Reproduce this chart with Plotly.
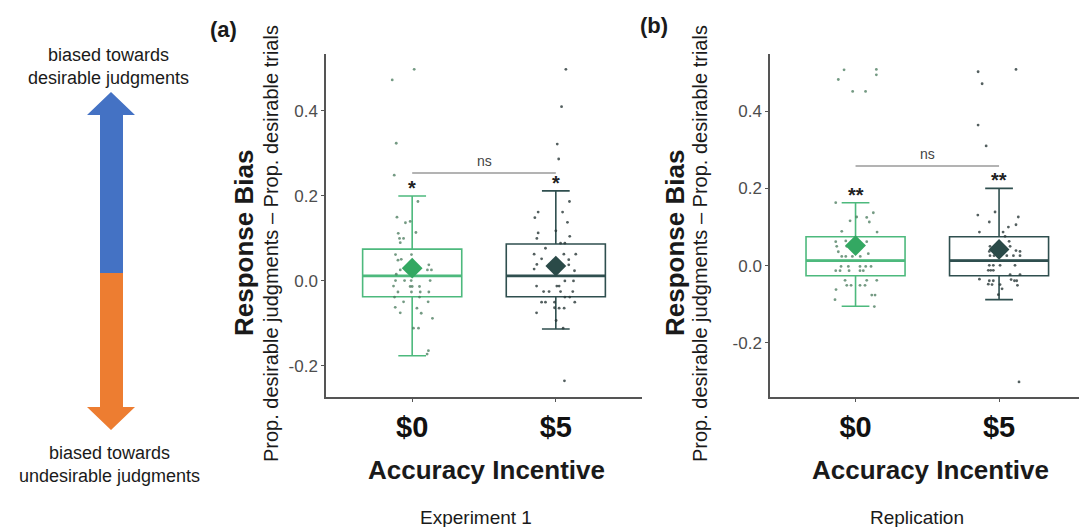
import plotly.graph_objects as go

W, H = 1079, 527

# ---------------- data ----------------
categories = ["$0", "$5"]
cat_pos = [1, 2]

# Panel (a) Experiment 1 : box statistics [q1, median, q3, lower whisker, upper whisker], mean
a_q1 = [-0.037, -0.037]
a_med = [0.012, 0.012]
a_q3 = [0.075, 0.087]
a_lo = [-0.176, -0.113]
a_hi = [0.200, 0.212]
a_mean = [0.030, 0.035]

# Panel (b) Replication
b_q1 = [-0.026, -0.026]
b_med = [0.013, 0.013]
b_q3 = [0.075, 0.075]
b_lo = [-0.105, -0.088]
b_hi = [0.163, 0.200]
b_mean = [0.052, 0.042]

# individual participants (value, jitter offset)
a0_y = [0.187, 0.150, 0.137, 0.140, 0.114, 0.112, 0.100, 0.100, 0.090, 0.062, 0.062, 0.049, 0.051,
        0.038, 0.026, 0.026, 0.026, 0.016, 0.001, 0.001, 0.001, 0.001, -0.012, -0.013, -0.013,
        -0.013, -0.026, -0.026, -0.026, -0.026, -0.038, -0.038, -0.049, -0.049, -0.062, -0.064,
        -0.075, -0.076, -0.088, -0.111, -0.111, -0.164, -0.172, 0.473, 0.498, 0.324, 0.249]
a0_dx = [0.04, -0.106, -0.047, -0.014, 0.026, -0.097, -0.088, -0.06, -0.083, -0.116, -0.005, -0.099,
         -0.076, 0.116, 0.106, 0.134, -0.083, -0.111, -0.116, -0.053, -0.007, 0.125, -0.13, -0.014,
         0.0, 0.051, -0.099, -0.005, 0.056, 0.116, -0.123, 0.051, -0.06, 0.111, -0.118, 0.033,
         -0.083, 0.063, 0.141, 0.009, 0.044, 0.113, 0.104, -0.139, 0.014, -0.111, -0.125]

a5_y = [0.187, 0.162, 0.149, 0.162, 0.138, 0.118, 0.113, 0.105, 0.100, 0.089, 0.089, 0.077, 0.063,
        0.063, 0.063, 0.052, 0.050, 0.039, 0.038, 0.028, 0.024, 0.000, 0.000, -0.012, -0.012,
        -0.012, -0.025, -0.025, -0.025, -0.025, -0.038, -0.038, -0.050, -0.050, -0.050, -0.050,
        -0.063, -0.064, -0.064, -0.075, -0.093, -0.111, 0.498, 0.410, 0.322, 0.287, -0.235]
a5_dx = [0.095, -0.123, -0.146, 0.047, 0.081, 0.0, -0.123, 0.097, -0.132, 0.033, 0.063, -0.072,
         -0.151, 0.056, 0.139, -0.099, 0.09, -0.132, 0.09, -0.151, 0.13, 0.063, 0.123, -0.134,
         0.007, 0.023, -0.085, -0.047, 0.033, 0.118, 0.063, 0.097, -0.099, -0.072, -0.009, 0.132,
         -0.009, 0.023, 0.058, -0.134, 0.002, 0.051, 0.07, 0.04, 0.01, 0.02, 0.06]

b0_y = [0.163, 0.137, 0.125, 0.126, 0.116, 0.113, 0.089, 0.087, 0.062, 0.064, 0.062, 0.050, 0.050,
        0.036, 0.031, 0.024, 0.024, 0.024, 0.024, -0.002, -0.002, -0.002, -0.002, -0.002, -0.013,
        -0.013, -0.013, -0.013, -0.013, -0.038, -0.038, -0.038, -0.051, -0.051, -0.051, -0.051,
        -0.062, -0.088, -0.076, -0.076, -0.106, 0.507, 0.482, 0.451, 0.451, 0.508, 0.494]
b0_dx = [-0.138, 0.124, 0.078, 0.008, -0.038, 0.096, -0.096, 0.15, -0.138, -0.068, 0.078, -0.131,
         -0.061, -0.12, 0.089, -0.096, -0.068, -0.022, 0.033, -0.101, -0.05, 0.031, 0.071, 0.108,
         -0.138, -0.108, -0.045, 0.031, 0.054, -0.073, 0.078, 0.148, -0.061, -0.031, 0.031, 0.066,
         -0.136, -0.143, 0.113, 0.136, 0.131, -0.08, -0.12, -0.02, 0.07, 0.145, 0.145]

b5_y = [0.139, 0.131, 0.126, 0.113, 0.106, 0.100, 0.087, 0.087, 0.076, 0.063, 0.050, 0.050, 0.037,
        0.039, 0.037, 0.026, 0.026, 0.026, 0.026, 0.026, 0.001, 0.001, 0.001, 0.001, -0.012,
        -0.012, -0.012, -0.035, -0.039, -0.039, -0.036, -0.039, -0.039, -0.023, -0.023, -0.048,
        -0.049, -0.049, -0.051, -0.060, -0.075, 0.502, 0.471, 0.364, 0.310, 0.508, -0.301]
b5_dx = [-0.028, -0.148, 0.134, -0.068, 0.118, 0.065, -0.137, 0.028, 0.042, 0.07, -0.063, 0.077,
         -0.068, 0.118, 0.146, -0.063, -0.035, 0.054, 0.1, 0.146, -0.068, -0.04, 0.007, 0.111,
         -0.075, -0.058, -0.04, -0.137, -0.068, -0.04, 0.084, 0.107, 0.123, 0.077, 0.146, -0.075,
         -0.049, 0.007, 0.128, 0.021, -0.005, -0.146, -0.118, -0.146, -0.09, 0.118, 0.139]

# significance labels
a_sig = ["*", "*"]
b_sig = ["**", "**"]
ns_label = "ns"
a_ns_y = 0.254
b_ns_y = 0.258

# ---------------- styles ----------------
COL = ["#4DB97D", "#2F4F4F"]
MEAN_COL = ["#33A862", "#2A4A48"]
DOT_COL = ["rgba(70,120,90,0.75)", "rgba(40,55,55,0.8)"]
AX_COL = "#555555"
FONT = "Liberation Sans, Arial, sans-serif"
NARROW = "Liberation Sans Narrow, Arial Narrow, Liberation Sans, Arial, sans-serif"

fig = go.Figure()

panels = [
    dict(xa="x", ya="y", q1=a_q1, med=a_med, q3=a_q3, lo=a_lo, hi=a_hi, mean=a_mean,
         pts=[(a0_y, a0_dx), (a5_y, a5_dx)], sig=a_sig, ns_y=a_ns_y),
    dict(xa="x2", ya="y2", q1=b_q1, med=b_med, q3=b_q3, lo=b_lo, hi=b_hi, mean=b_mean,
         pts=[(b0_y, b0_dx), (b5_y, b5_dx)], sig=b_sig, ns_y=b_ns_y),
]

BOXW = 0.69
for p in panels:
    for i, xc in enumerate(cat_pos):
        fig.add_trace(go.Box(
            x=[xc], q1=[p["q1"][i]], median=[p["med"][i]], q3=[p["q3"][i]],
            lowerfence=[p["lo"][i]], upperfence=[p["hi"][i]],
            width=BOXW, whiskerwidth=0.28, boxpoints=False,
            line=dict(color=COL[i], width=1.6), fillcolor="rgba(255,255,255,0)",
            xaxis=p["xa"], yaxis=p["ya"], hoverinfo="skip"))
        # thicker median line
        fig.add_trace(go.Scatter(
            x=[xc - BOXW / 2, xc + BOXW / 2], y=[p["med"][i], p["med"][i]], mode="lines",
            line=dict(color=COL[i], width=2.6), xaxis=p["xa"], yaxis=p["ya"], hoverinfo="skip"))
        ys, dxs = p["pts"][i]
        fig.add_trace(go.Scatter(
            x=[xc + d for d in dxs], y=ys, mode="markers",
            marker=dict(size=2.8, color=DOT_COL[i]), xaxis=p["xa"], yaxis=p["ya"], hoverinfo="skip"))
        fig.add_trace(go.Scatter(
            x=[xc], y=[p["mean"][i]], mode="markers",
            marker=dict(symbol="diamond", size=16, color=MEAN_COL[i]),
            xaxis=p["xa"], yaxis=p["ya"], hoverinfo="skip"))
        # significance stars just above the upper whisker
        fig.add_annotation(x=xc, y=p["hi"][i], xref=p["xa"], yref=p["ya"], text=p["sig"][i],
                           showarrow=False, yanchor="bottom", yshift=-5,
                           font=dict(family=FONT, size=20, color="#222222", weight="bold"))
    # ns bracket
    fig.add_trace(go.Scatter(x=cat_pos, y=[p["ns_y"], p["ns_y"]], mode="lines",
                             line=dict(color="#9a9a9a", width=1.5),
                             xaxis=p["xa"], yaxis=p["ya"], hoverinfo="skip"))
    fig.add_annotation(x=sum(cat_pos) / 2, y=p["ns_y"], xref=p["xa"], yref=p["ya"], text=ns_label,
                       showarrow=False, yanchor="bottom", yshift=2,
                       font=dict(family=FONT, size=14, color="#444444"))

def px(x):
    return x / W

def py(y):
    return 1 - y / H

ydom = [py(397), py(54)]
common_x = dict(tickvals=cat_pos, ticktext=categories, showline=True, linecolor=AX_COL, linewidth=1.5,
                ticks="outside", ticklen=3, tickcolor=AX_COL, showgrid=False, zeroline=False,
                tickfont=dict(family=NARROW, size=29, color="#111111", weight="bold"),
                fixedrange=True)
common_y = dict(tickvals=[-0.2, 0.0, 0.2, 0.4], ticktext=["-0.2", "0.0", "0.2", "0.4"],
                showline=True, linecolor=AX_COL, linewidth=1.5, ticks="outside", ticklen=3,
                tickcolor=AX_COL, showgrid=False, zeroline=False,
                tickfont=dict(family=FONT, size=17, color="#4d4d4d"), fixedrange=True)

fig.update_layout(
    width=W, height=H, margin=dict(l=0, r=0, t=0, b=0),
    paper_bgcolor="white", plot_bgcolor="white", showlegend=False,
    xaxis=dict(domain=[px(326), px(642)], range=[0.4, 2.6], anchor="y", **common_x),
    yaxis=dict(domain=ydom, range=[-0.273, 0.534], anchor="x", **common_y),
    xaxis2=dict(domain=[px(770), 1.0], range=[0.404, 2.557], anchor="y2", **common_x),
    yaxis2=dict(domain=ydom, range=[-0.34, 0.548], anchor="x2", **common_y),
)

# ---------------- arrow (left panel) ----------------
def path(points):
    s = "M " + " L ".join(f"{px(x)},{py(y)}" for x, y in points) + " Z"
    return s

blue_pts = [(111, 92), (135, 115), (123, 115), (123, 273), (100, 273), (100, 115), (87, 115)]
orange_pts = [(100, 273), (123, 273), (123, 407), (135, 407), (111, 430), (87, 407), (100, 407)]
fig.add_shape(type="path", path=path(blue_pts), xref="paper", yref="paper",
              fillcolor="#4472C4", line=dict(width=0))
fig.add_shape(type="path", path=path(orange_pts), xref="paper", yref="paper",
              fillcolor="#ED7D31", line=dict(width=0))

def ann(x, y, text, size, bold=False, angle=0, family=FONT, color="#1a1a1a"):
    fig.add_annotation(x=px(x), y=py(y), xref="paper", yref="paper", text=text, showarrow=False,
                       xanchor="center", yanchor="middle", textangle=angle,
                       font=dict(family=family, size=size, color=color,
                                 weight="bold" if bold else "normal"))

ann(108, 55, "biased towards", 18)
ann(108, 78, "desirable judgments", 18)
ann(109, 453, "biased towards", 18)
ann(109, 476, "undesirable judgments", 18)

ann(223, 29, "(a)", 22, bold=True)
ann(654, 25, "(b)", 22, bold=True)

ann(244, 243, "Response Bias", 26, bold=True, angle=-90)
ann(271, 244, "Prop. desirable judgments \u2013 Prop. desirable trials", 20, angle=-90)
ann(675, 243, "Response Bias", 26, bold=True, angle=-90)
ann(700, 244, "Prop. desirable judgments \u2013 Prop. desirable trials", 20, angle=-90)

ann(486, 470, "Accuracy Incentive", 26, bold=True, family=NARROW)
ann(930, 470, "Accuracy Incentive", 26, bold=True, family=NARROW)
ann(476, 517, "Experiment 1", 19, family=NARROW)
ann(917, 517, "Replication", 19, family=NARROW)

fig.write_html("out.html")
